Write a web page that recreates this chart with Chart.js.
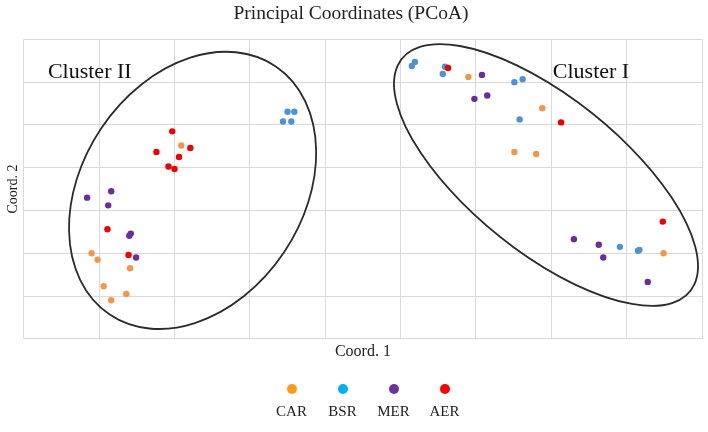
<!DOCTYPE html>
<html>
<head>
<meta charset="utf-8">
<script src="https://cdn.jsdelivr.net/npm/chart.js@4"></script>
<style>
  body { margin: 0; background: #fff; }
  #wrap { position: relative; width: 708px; height: 432px; }
  #legend { position: absolute; left: 266px; top: 384px; display: flex; font-family: 'Liberation Serif', 'Times New Roman', serif; font-size: 15px; color: #222; }
  #legend .item { width: 51px; text-align: center; }
  #legend .dot { width: 10px; height: 10px; border-radius: 50%; margin: 0 auto 9px auto; }
</style>
</head>
<body>
<div id="wrap">
  <canvas id="pcoa"></canvas>
  <div id="legend"></div>
</div>
<script>
// PCoA sample coordinates (grid units)
var groups = ['CAR', 'BSR', 'MER', 'AER'];

var carX = [2.09, 0.90, 0.98, 1.41, 1.06, 1.36, 1.16, 5.90, 6.88, 6.51, 6.80, 8.49];
var carY = [4.52, 2.00, 1.85, 1.65, 1.23, 1.05, 0.90, 6.12, 5.39, 4.37, 4.32, 2.00];

var bsrX = [3.50, 3.59, 3.44, 3.55, 5.15, 5.19, 5.59, 5.56, 6.51, 6.62, 6.58, 7.91, 8.15, 8.17];
var bsrY = [5.31, 5.31, 5.08, 5.08, 6.38, 6.47, 6.36, 6.19, 6.00, 6.07, 5.13, 2.15, 2.06, 2.08];

var merX = [0.84, 1.16, 1.12, 1.42, 1.40, 1.49, 6.08, 5.98, 6.15, 7.30, 7.63, 7.69, 8.28];
var merY = [3.30, 3.45, 3.12, 2.46, 2.41, 1.90, 6.17, 5.61, 5.69, 2.33, 2.20, 1.90, 1.33];

var aerX = [1.97, 1.76, 2.21, 2.06, 1.92, 2.00, 1.11, 1.39, 5.63, 7.13, 8.48];
var aerY = [4.85, 4.37, 4.46, 4.25, 4.03, 3.97, 2.56, 1.96, 6.33, 5.06, 2.74];

// cluster ellipses: centre, semi-axes (grid units) and rotation (deg)
var clusterNames = ['Cluster II', 'Cluster I'];
var clusterCx = [2.24, 6.93];
var clusterCy = [3.47, 3.83];
var clusterA = [3.28, 3.43];
var clusterB = [1.56, 1.29];
var clusterAngle = [79.9, -60.8];
var clusterLabelX = [0.32, 7.02];
var clusterLabelY = [6.10, 6.10];

var pointColors = ['#f4964a', '#4b93d6', '#6b2d9e', '#ee0000'];
var legendColors = ['#ff9a1a', '#00b0f0', '#7030a0', '#ff0000'];

function pairs(xs, ys) {
  return xs.map(function (x, i) { return { x: x, y: ys[i] }; });
}

var serif = "'Liberation Serif', 'Times New Roman', serif";

var ellipsePlugin = {
  id: 'clusters',
  afterDatasetsDraw: function (chart) {
    var ctx = chart.ctx;
    var xs = chart.scales.x, ys = chart.scales.y;
    var ux = xs.getPixelForValue(1) - xs.getPixelForValue(0);
    var uy = ys.getPixelForValue(0) - ys.getPixelForValue(1);
    for (var i = 0; i < clusterNames.length; i++) {
      ctx.save();
      ctx.beginPath();
      ctx.translate(xs.getPixelForValue(clusterCx[i]), ys.getPixelForValue(clusterCy[i]));
      ctx.scale(ux, -uy);
      ctx.rotate(clusterAngle[i] * Math.PI / 180);
      ctx.ellipse(0, 0, clusterA[i], clusterB[i], 0, 0, Math.PI * 2);
      ctx.restore();
      ctx.save();
      ctx.strokeStyle = '#2b2b2b';
      ctx.lineWidth = 1.8;
      ctx.stroke();
      ctx.fillStyle = '#111';
      ctx.font = '22px ' + serif;
      ctx.textBaseline = 'alphabetic';
      ctx.fillText(clusterNames[i], xs.getPixelForValue(clusterLabelX[i]), ys.getPixelForValue(clusterLabelY[i]));
      ctx.restore();
    }
  }
};

var xs = [carX, bsrX, merX, aerX];
var yv = [carY, bsrY, merY, aerY];
var datasets = groups.map(function (g, i) {
  return {
    label: g,
    data: pairs(xs[i], yv[i]),
    backgroundColor: pointColors[i],
    borderWidth: 0,
    pointRadius: 3.2,
    pointHoverRadius: 3.2,
    legendColor: legendColors[i],
    order: groups.length - i
  };
});

var chart = new Chart(document.getElementById('pcoa').getContext('2d'), {
  type: 'scatter',
  data: { datasets: datasets },
  plugins: [ellipsePlugin],
  options: {
    responsive: true,
    maintainAspectRatio: false,
    animation: false,
    layout: { padding: { left: 0, right: 6, top: 0, bottom: 0 } },
    scales: {
      x: {
        min: 0, max: 9,
        ticks: { display: false, stepSize: 1 },
        grid: { color: '#dadada', drawTicks: false },
        border: { color: '#dadada' },
        title: { display: true, text: 'Coord. 1', color: '#222', font: { family: serif, size: 16 }, padding: { top: 3, bottom: 71 } }
      },
      y: {
        min: 0, max: 7,
        ticks: { display: false, stepSize: 1 },
        grid: { color: '#dadada', drawTicks: false },
        border: { color: '#dadada' },
        title: { display: true, text: 'Coord. 2', color: '#222', font: { family: serif, size: 14 }, padding: { top: 5, bottom: 2 } }
      }
    },
    plugins: {
      legend: { display: false },
      tooltip: { enabled: false },
      title: {
        display: true,
        text: 'Principal Coordinates (PCoA)',
        color: '#222',
        font: { family: serif, size: 19.5, weight: 'normal' },
        padding: { top: 2, bottom: 14 }
      }
    }
  }
});

// legend with the dot above the label
var legendBox = document.getElementById('legend');
chart.data.datasets.forEach(function (ds) {
  var item = document.createElement('div');
  item.className = 'item';
  var dot = document.createElement('div');
  dot.className = 'dot';
  dot.style.background = ds.legendColor;
  var txt = document.createElement('div');
  txt.textContent = ds.label;
  item.appendChild(dot);
  item.appendChild(txt);
  legendBox.appendChild(item);
});
</script>
</body>
</html>
